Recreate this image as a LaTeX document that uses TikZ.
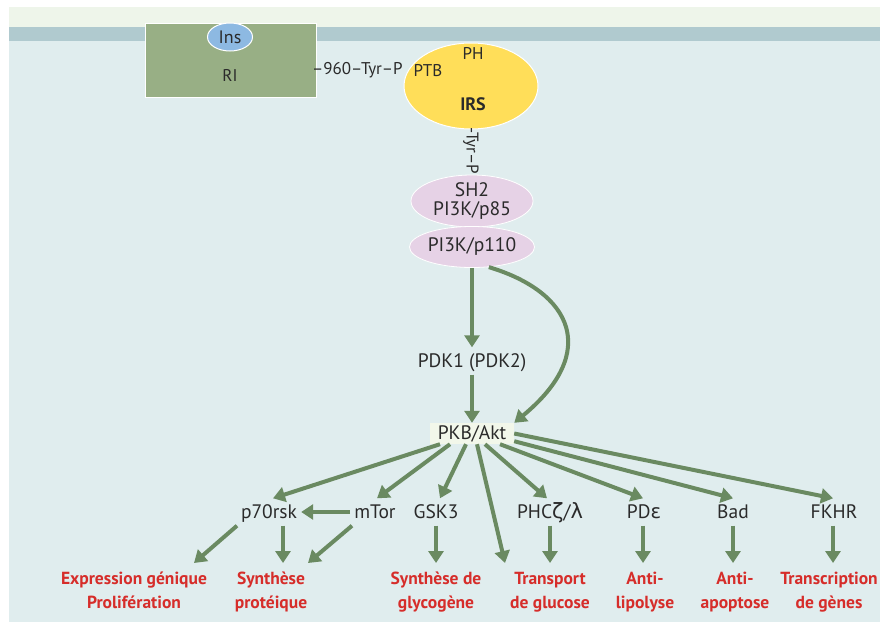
\documentclass[tikz,border=0pt]{standalone}
\usepackage{fontspec}
\setmainfont{PT Sans}
\newfontfamily\grk{DejaVu Sans}
\usetikzlibrary{arrows.meta,shapes.geometric}
\definecolor{topband}{HTML}{EEF5EA}
\definecolor{membrane}{HTML}{B0CACF}
\definecolor{cyto}{HTML}{E0EDEE}
\definecolor{rigreen}{HTML}{98AF85}
\definecolor{insblue}{HTML}{8DB9E2}
\definecolor{irsyellow}{HTML}{FFDE59}
\definecolor{pikpink}{HTML}{E6D2E6}
\definecolor{pkbfill}{HTML}{F2F7EA}
\definecolor{arrgreen}{HTML}{6A8A61}
\definecolor{redc}{HTML}{D62D2A}
\definecolor{txt}{HTML}{2A2A2A}
\tikzset{
  arr/.style={draw=arrgreen, line width=4pt, -{Triangle[length=12pt,width=15pt]}},
  lab/.style={font=\fontsize{19.5}{23}\selectfont, text=txt, text height=13pt, text depth=0pt, inner ysep=7pt, inner xsep=4pt},
  small/.style={font=\fontsize{17}{20}\selectfont, text=txt, inner sep=0pt},
  redlab/.style={font=\fontsize{17.5}{24}\selectfont\bfseries, text=redc, align=center, anchor=north, inner ysep=9pt, inner xsep=0pt},
  pik/.style={ellipse, fill=pikpink, draw=white, line width=0.8pt, inner sep=0pt, font=\fontsize{19.5}{22}\selectfont, text=txt, align=center}
}
\begin{document}
\begin{tikzpicture}[x=1pt,y=-1pt]
\useasboundingbox (0,0) rectangle (880,624);
\fill[white] (0,0) rectangle (880,624);
\fill[topband] (9,7) rectangle (880,27);
\fill[membrane] (9,27) rectangle (880,41);
\fill[cyto] (9,41) rectangle (880,622);

% receptor
\node[rectangle, fill=rigreen, draw=white, line width=0.8pt, minimum width=171pt, minimum height=74pt, inner sep=0pt] (ri) at (230.5,60) {};
\node[ellipse, fill=insblue, draw=white, line width=1pt, minimum width=45pt, minimum height=28pt, inner sep=0pt, font=\fontsize{18}{20}\selectfont, text=txt] (ins) at (230,37) {Ins};
\node[small] (rilab) at (230,75) {RI};
\node[small, anchor=west] (tyr1) at (312,70) {–960–Tyr–P};

% IRS
\node[ellipse, fill=irsyellow, draw=white, line width=1pt, minimum width=134pt, minimum height=86pt, inner sep=0pt] (irs) at (471,86) {};
\node[small] (ph) at (473,53) {PH};
\node[small] (ptb) at (428,71) {PTB};
\node[small, font=\fontsize{18}{20}\selectfont\bfseries] (irslab) at (473,104) {IRS};
\node[small, rotate=-90] (tyr2) at (471,151) {-Tyr–P};

% PI3K
\node[pik, minimum width=122pt, minimum height=50pt] (p85) at (472,201) {SH2\\[-3pt]PI3K/p85};
\node[pik, minimum width=122pt, minimum height=41pt] (p110) at (472,247) {PI3K/p110};

% PDK, PKB
\node[lab] (pdk) at (472,361) {PDK1 (PDK2)};
\node[rectangle, fill=pkbfill, minimum width=84pt, minimum height=21pt, inner sep=0pt, font=\fontsize{19.5}{22}\selectfont, text=txt] (pkb) at (472,433.5) {PKB/Akt};

% level 2
\node[lab] (p70) at (269,512) {p70rsk};
\node[lab] (mtor) at (375,512) {mTor};
\node[lab] (gsk) at (436,512) {GSK3};
\node[lab] (phc) at (550,512) {PHC{\grk\fontsize{21}{23}\selectfont ζ}/{\grk\fontsize{21}{23}\selectfont λ}};
\node[lab] (pde) at (644,512) {PD{\grk ɛ}};
\node[lab] (bad) at (733,512) {Bad};
\node[lab] (fkhr) at (834,512) {FKHR};

% outcomes
\node[redlab] (expr) at (134,563) {Expression génique\\Prolifération};
\node[redlab] (psyn) at (271,563) {Synthèse\\protéique};
\node[redlab] (gsyn) at (436,563) {Synthèse de\\glycogène};
\node[redlab] (trans) at (550,563) {Transport\\de glucose};
\node[redlab] (lip) at (645,563) {Anti-\\lipolyse};
\node[redlab] (apo) at (735,563) {Anti-\\apoptose};
\node[redlab] (gen) at (829,563) {Transcription\\de gènes};

% arrows
\draw[arr] (p110.south) -- (pdk.north);
\draw[arr] (pdk.south) -- (pkb.north);
\draw[arr] (p110.-50) .. controls (572,292) and (600,352) .. (pkb.north east);

\draw[arr] ([xshift=-32pt]pkb.south) -- ([xshift=4pt]p70.north);
\draw[arr] ([xshift=-22pt]pkb.south) -- ([xshift=2pt]mtor.north);
\draw[arr] ([xshift=-6pt]pkb.south) -- ([xshift=4pt]gsk.north);
\draw[arr] ([xshift=5pt]pkb.south) -- ([xshift=-45pt]trans.north);
\draw[arr] ([xshift=13pt]pkb.south) -- ([xshift=-3pt]phc.north);
\draw[arr] ([xshift=28pt]pkb.south) -- ([xshift=-1pt]pde.north);
\draw[arr] ([yshift=3pt]pkb.south east) -- (bad.north);
\draw[arr] (pkb.east) -- ([xshift=-1pt]fkhr.north);

\draw[arr] (mtor.west) -- (p70.east);
\draw[arr] ([xshift=-32pt]p70.south) -- ([xshift=60pt]expr.north);
\draw[arr] ([xshift=14pt]p70.south) -- ([xshift=12pt]psyn.north);
\draw[arr] ([xshift=-23pt]mtor.south) -- ([xshift=37pt]psyn.north);
\draw[arr] (gsk.south) -- (gsyn.north);
\draw[arr] (phc.south) -- (trans.north);
\draw[arr] ([xshift=-1pt]pde.south) -- ([xshift=-2pt]lip.north);
\draw[arr] (bad.south) -- ([xshift=-2pt]apo.north);
\draw[arr] ([xshift=-1pt]fkhr.south) -- ([xshift=4pt]gen.north);
\end{tikzpicture}
\end{document}
